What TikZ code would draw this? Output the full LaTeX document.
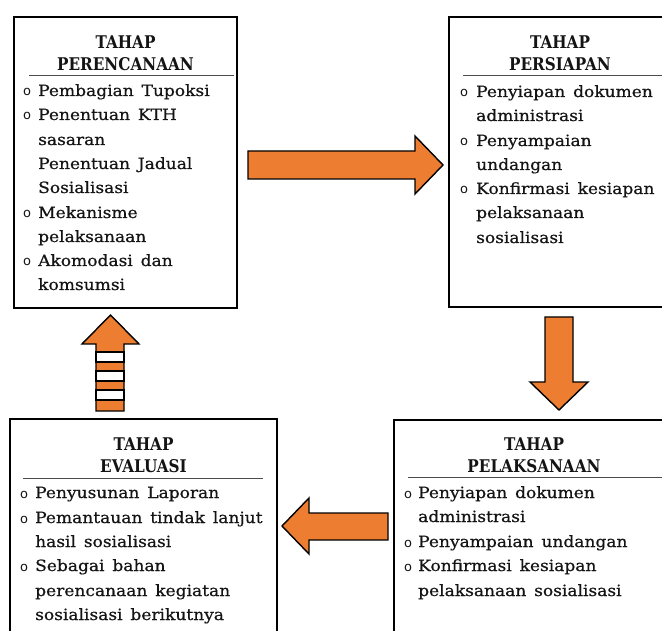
\documentclass[tikz,border=0pt]{standalone}
\usepackage{fontspec}
\setmainfont[FakeStretch=1.1,WordSpace=1.45,FakeBold=0.6]{DejaVu Serif}
\newfontfamily\ttlfont[FakeStretch=0.87]{DejaVu Serif}
\newfontfamily\bulletfont{DejaVu Sans}
\definecolor{orangeA}{HTML}{ED7D31}
\definecolor{inkA}{HTML}{141414}
\begin{document}
\begin{tikzpicture}[x=1pt,y=-1pt,
  boxA/.style={draw=black, line width=1.8pt, inner sep=0pt},
  ruleA/.style={draw=black!70, line width=1pt},
  ttl/.style={font=\ttlfont\bfseries\fontsize{17.5}{17.5}\selectfont, anchor=base, inner sep=0pt, text=inkA},
  itm/.style={font=\fontsize{15.5}{15.5}\selectfont, anchor=base west, inner sep=0pt, text=inkA},
  bul/.style={font=\bulletfont\fontsize{13}{13}\selectfont, anchor=base west, inner sep=0pt, text=inkA},
  arrA/.style={fill=orangeA, draw=black, line width=1.4pt, line join=miter},
  stripeA/.style={fill=white, draw=black, line width=1.4pt}]
\useasboundingbox (0,0) rectangle (662,631);
\fill[white] (0,0) rectangle (662,631);
\begin{scope}
\clip (0,0) rectangle (662,631);
% boxes
\node[boxA, minimum width=223pt, minimum height=291pt] (b1) at (125.5,162.5) {};
\node[boxA, minimum width=222pt, minimum height=290pt] (b2) at (560,162) {};
\node[boxA, minimum width=267pt, minimum height=226pt] (b3) at (143.5,532) {};
\node[boxA, minimum width=280pt, minimum height=226pt] (b4) at (534,533) {};
% title rules
\coordinate (r1a) at (29,76); \coordinate (r1b) at (234,76);
\draw[ruleA] (r1a) -- (r1b);
\coordinate (r2a) at (463,76); \coordinate (r2b) at (662,76);
\draw[ruleA] (r2a) -- (r2b);
\coordinate (r3a) at (23,478); \coordinate (r3b) at (263,478);
\draw[ruleA] (r3a) -- (r3b);
\coordinate (r4a) at (408,477); \coordinate (r4b) at (662,477);
\draw[ruleA] (r4a) -- (r4b);
\end{scope}
% ---- Box 1: PERENCANAAN
\node[ttl] (t1a) at (125.5,49) {TAHAP};
\node[ttl] (t1b) at (125.5,71) {PERENCANAAN};
\node[bul] (p1a) at (23,96) {o};
\node[itm] (i1a) at (38,96) {Pembagian Tupoksi};
\node[bul] (p1b) at (23,120) {o};
\node[itm] (i1b) at (38,120) {Penentuan KTH};
\node[itm] (i1c) at (38,145) {sasaran};
\node[itm] (i1d) at (38,169) {Penentuan Jadual};
\node[itm] (i1e) at (38,193) {Sosialisasi};
\node[bul] (p1f) at (23,218) {o};
\node[itm] (i1f) at (38,218) {Mekanisme};
\node[itm] (i1g) at (38,242) {pelaksanaan};
\node[bul] (p1h) at (23,266) {o};
\node[itm] (i1h) at (38,266) {Akomodasi dan};
\node[itm] (i1i) at (38,290) {komsumsi};
% ---- Box 2: PERSIAPAN
\node[ttl] (t2a) at (560,49) {TAHAP};
\node[ttl] (t2b) at (560,71) {PERSIAPAN};
\node[bul] (p2a) at (460,97) {o};
\node[itm] (i2a) at (476,97) {Penyiapan dokumen};
\node[itm] (i2b) at (476,121) {administrasi};
\node[bul] (p2c) at (460,146) {o};
\node[itm] (i2c) at (476,146) {Penyampaian};
\node[itm] (i2d) at (476,170) {undangan};
\node[bul] (p2e) at (460,194) {o};
\node[itm] (i2e) at (476,194) {Konfirmasi kesiapan};
\node[itm] (i2f) at (476,218) {pelaksanaan};
\node[itm] (i2g) at (476,243) {sosialisasi};
% ---- Box 3: EVALUASI
\node[ttl] (t3a) at (143.5,450) {TAHAP};
\node[ttl] (t3b) at (143.5,472) {EVALUASI};
\node[bul] (p3a) at (20,498) {o};
\node[itm] (i3a) at (35,498) {Penyusunan Laporan};
\node[bul] (p3b) at (20,523) {o};
\node[itm] (i3b) at (35,523) {Pemantauan tindak lanjut};
\node[itm] (i3c) at (35,547) {hasil sosialisasi};
\node[bul] (p3d) at (20,571) {o};
\node[itm] (i3d) at (35,571) {Sebagai bahan};
\node[itm] (i3e) at (35,596) {perencanaan kegiatan};
\node[itm] (i3f) at (35,620) {sosialisasi berikutnya};
% ---- Box 4: PELAKSANAAN
\node[ttl] (t4a) at (534,450) {TAHAP};
\node[ttl] (t4b) at (534,472) {PELAKSANAAN};
\node[bul] (p4a) at (404,498) {o};
\node[itm] (i4a) at (418,498) {Penyiapan dokumen};
\node[itm] (i4b) at (418,522) {administrasi};
\node[bul] (p4c) at (404,547) {o};
\node[itm] (i4c) at (418,547) {Penyampaian undangan};
\node[bul] (p4d) at (404,571) {o};
\node[itm] (i4d) at (418,571) {Konfirmasi kesiapan};
\node[itm] (i4e) at (418,596) {pelaksanaan sosialisasi};
% ---- block arrows
\draw[arrA] (248,151) -- (415,151) -- (415,136) -- (443,165) -- (415,194) -- (415,179) -- (248,179) -- cycle;
\draw[arrA] (545,317) -- (573,317) -- (573,382) -- (588,382) -- (559,410) -- (530,382) -- (545,382) -- cycle;
\draw[arrA] (388,513) -- (309,513) -- (309,498) -- (282,526) -- (309,554) -- (309,540) -- (388,540) -- cycle;
\draw[arrA] (96,411) -- (96,344) -- (82,344) -- (110.5,315) -- (139,344) -- (124,344) -- (124,411) -- cycle;
\draw[stripeA] (96,352) rectangle (124,362);
\draw[stripeA] (96,371) rectangle (124,381);
\draw[stripeA] (96,390) rectangle (124,400);
\end{tikzpicture}
\end{document}
